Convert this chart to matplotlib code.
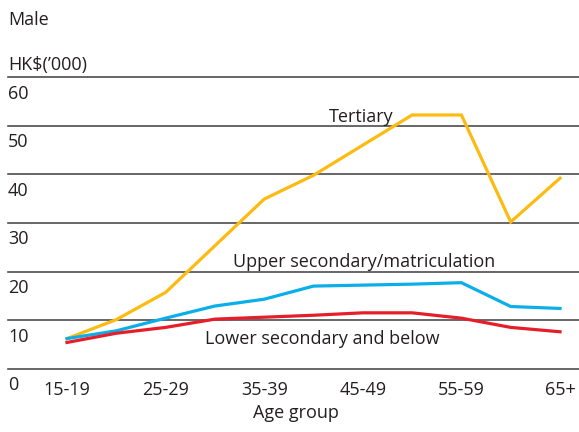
import matplotlib.pyplot as plt

# Data (HK$'000), male median monthly income by age group
ages = ["15-19", "20-24", "25-29", "30-34", "35-39", "40-44",
        "45-49", "50-54", "55-59", "60-64", "65+"]
tertiary = [6.2, 10.1, 15.7, 25.3, 34.9, 39.8, 46.0, 52.2, 52.2, 30.2, 39.2]
upper_sec = [6.2, 7.8, 10.4, 12.9, 14.3, 17.0, 17.2, 17.4, 17.7, 12.8, 12.4]
lower_sec = [5.4, 7.3, 8.5, 10.2, 10.6, 11.0, 11.5, 11.5, 10.4, 8.5, 7.6]
yticks = [0, 10, 20, 30, 40, 50, 60]

plt.rcParams["font.family"] = ["Open Sans", "DejaVu Sans"]
txt = "#231f20"

fig = plt.figure(figsize=(5.79, 4.32), dpi=100)
ax = fig.add_axes([0, 0, 1, 1])
x0 = -1.359
ax.set_xlim(x0, 10.385)
ax.set_ylim(-13.02, 75.86)
ax.axis("off")

x = list(range(len(ages)))

# gridlines with labels just below each line
for v in yticks:
    ax.axhline(v, xmin=8 / 579, xmax=1, color="#4d4d4d", lw=1.2, zorder=1)
    ax.text(x0 + 8 / 49.3, v - 3.4, str(v), ha="left", va="center",
            fontsize=13, color=txt)

ax.plot(x, tertiary, color="#FDBB11", lw=2.3, zorder=3, solid_joinstyle="miter")
ax.plot(x, upper_sec, color="#0AAEE8", lw=2.3, zorder=3, solid_joinstyle="miter")
ax.plot(x, lower_sec, color="#E61E2A", lw=2.3, zorder=3, solid_joinstyle="miter")

# series labels
ax.text(5.96, 50.8, "Tertiary", ha="center", va="baseline", fontsize=13, color=txt)
ax.text(6.02, 21.0, "Upper secondary/matriculation", ha="center", va="baseline",
        fontsize=13, color=txt)
ax.text(5.17, 5.0, "Lower secondary and below", ha="center", va="baseline",
        fontsize=13, color=txt)

# x tick labels (every other group)
for i in range(0, len(ages), 2):
    ax.text(i, -4.45, ages[i], ha="center", va="center", fontsize=13, color=txt)
ax.text(4.64, -10.1, "Age group", ha="center", va="baseline", fontsize=13, color=txt)

# header
fig.text(8 / 579, 1 - 20 / 432, "Male", ha="left", va="center", fontsize=13, color=txt)
fig.text(8 / 579, 1 - 65 / 432, "HK$(\u2019000)", ha="left", va="center", fontsize=13, color=txt)

fig.savefig("out.png", dpi=100)
